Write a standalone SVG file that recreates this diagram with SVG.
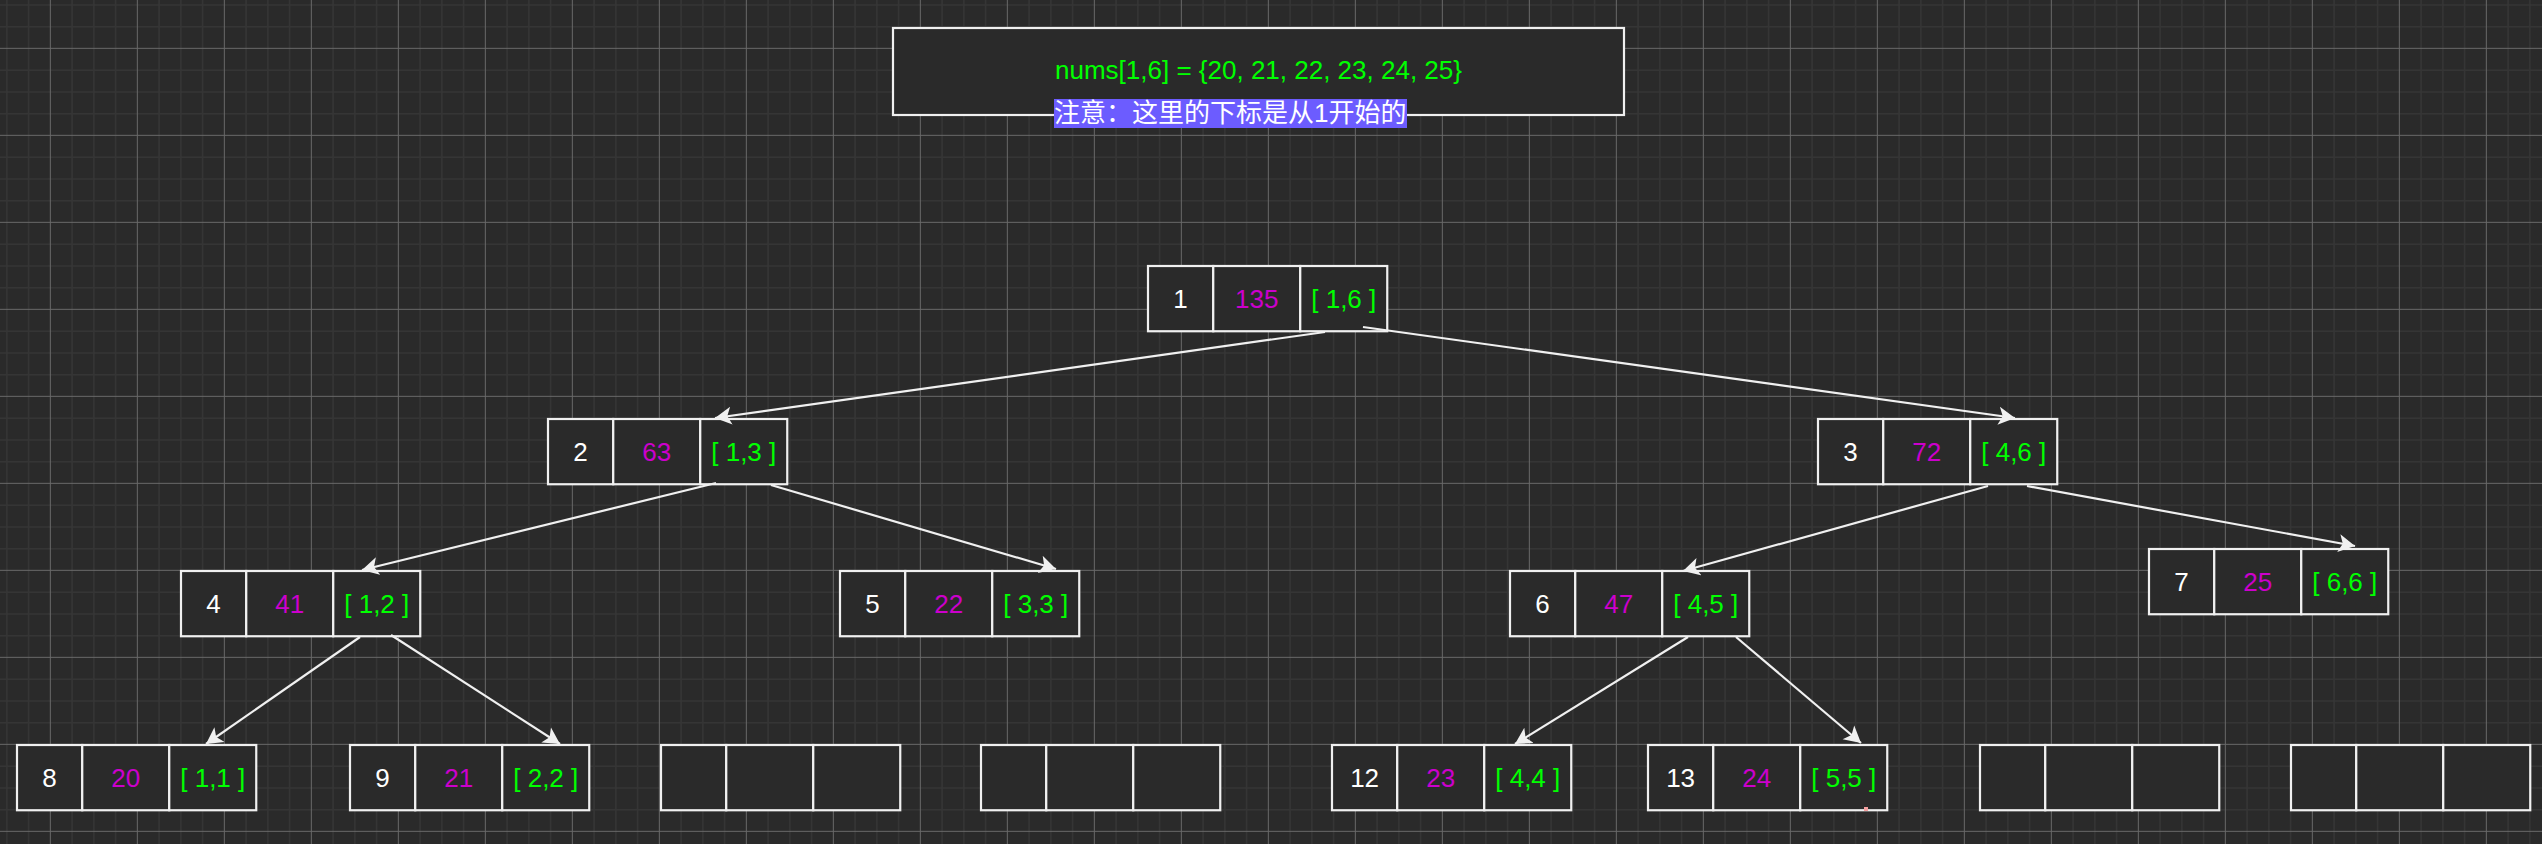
<svg xmlns="http://www.w3.org/2000/svg" width="2542" height="844" viewBox="0 0 2542 844">
<style>
.cell{fill:#2a2a2a;stroke:#f0f0f0;stroke-width:2.2}
.t{font-family:"Liberation Sans",Arial,Helvetica,sans-serif;font-size:26px;text-anchor:middle}
.i{fill:#ffffff}
.v{fill:#cc00cc}
.r{fill:#00ff00}
.edge{fill:none;stroke:#f0f0f0;stroke-width:2.2;marker-end:url(#arr)}
</style>
<defs>
<pattern id="grid" patternUnits="userSpaceOnUse" x="-4.045" y="-6.045" width="87" height="87">
<path d="M10.875 0V87M32.625 0V87M76.125 0V87M0 10.875H87M0 32.625H87M0 76.125H87" stroke="#353535" stroke-width="1.5" fill="none"/>
<path d="M54.375 0V87M0 54.375H87" stroke="#686868" stroke-width="1" fill="none"/>
</pattern>
<marker id="arr" markerUnits="userSpaceOnUse" markerWidth="18" markerHeight="20" viewBox="0 0 18 20" refX="16.5" refY="10" orient="auto">
<path d="M16.5 10L0 1L4.1 10L0 19Z" fill="#f0f0f0"/>
</marker>
</defs>
<rect x="0" y="0" width="2542" height="844" fill="#2a2a2a"/>
<rect x="0" y="0" width="2542" height="844" fill="url(#grid)"/>

<g id="title">
<rect x="893" y="28" width="731" height="87" class="cell"/>
<text x="1258.5" y="79" class="t r">nums[1,6] = {20, 21, 22, 23, 24, 25}</text>
<rect x="1054" y="99" width="353" height="29" fill="#6c5cff"/>
<text x="1054" y="122" fill="#ffffff" font-family="'Liberation Sans','Noto Sans CJK SC',sans-serif" font-size="26">注意：这里的下标是从1开始的</text>
</g>

<g id="node-1" transform="translate(1148,266)">
<rect x="0" y="0" width="65.25" height="65.25" class="cell"/><rect x="65.25" y="0" width="87" height="65.25" class="cell"/><rect x="152.25" y="0" width="87" height="65.25" class="cell"/>
<text x="32.6" y="42" class="t i">1</text><text x="108.75" y="42" class="t v">135</text><text x="195.75" y="42" class="t r">[ 1,6 ]</text>
</g>
<g id="node-2" transform="translate(548,419)">
<rect x="0" y="0" width="65.25" height="65.25" class="cell"/><rect x="65.25" y="0" width="87" height="65.25" class="cell"/><rect x="152.25" y="0" width="87" height="65.25" class="cell"/>
<text x="32.6" y="42" class="t i">2</text><text x="108.75" y="42" class="t v">63</text><text x="195.75" y="42" class="t r">[ 1,3 ]</text>
</g>
<g id="node-3" transform="translate(1818,419)">
<rect x="0" y="0" width="65.25" height="65.25" class="cell"/><rect x="65.25" y="0" width="87" height="65.25" class="cell"/><rect x="152.25" y="0" width="87" height="65.25" class="cell"/>
<text x="32.6" y="42" class="t i">3</text><text x="108.75" y="42" class="t v">72</text><text x="195.75" y="42" class="t r">[ 4,6 ]</text>
</g>
<g id="node-4" transform="translate(181,571)">
<rect x="0" y="0" width="65.25" height="65.25" class="cell"/><rect x="65.25" y="0" width="87" height="65.25" class="cell"/><rect x="152.25" y="0" width="87" height="65.25" class="cell"/>
<text x="32.6" y="42" class="t i">4</text><text x="108.75" y="42" class="t v">41</text><text x="195.75" y="42" class="t r">[ 1,2 ]</text>
</g>
<g id="node-5" transform="translate(840,571)">
<rect x="0" y="0" width="65.25" height="65.25" class="cell"/><rect x="65.25" y="0" width="87" height="65.25" class="cell"/><rect x="152.25" y="0" width="87" height="65.25" class="cell"/>
<text x="32.6" y="42" class="t i">5</text><text x="108.75" y="42" class="t v">22</text><text x="195.75" y="42" class="t r">[ 3,3 ]</text>
</g>
<g id="node-6" transform="translate(1510,571)">
<rect x="0" y="0" width="65.25" height="65.25" class="cell"/><rect x="65.25" y="0" width="87" height="65.25" class="cell"/><rect x="152.25" y="0" width="87" height="65.25" class="cell"/>
<text x="32.6" y="42" class="t i">6</text><text x="108.75" y="42" class="t v">47</text><text x="195.75" y="42" class="t r">[ 4,5 ]</text>
</g>
<g id="node-7" transform="translate(2149,549)">
<rect x="0" y="0" width="65.25" height="65.25" class="cell"/><rect x="65.25" y="0" width="87" height="65.25" class="cell"/><rect x="152.25" y="0" width="87" height="65.25" class="cell"/>
<text x="32.6" y="42" class="t i">7</text><text x="108.75" y="42" class="t v">25</text><text x="195.75" y="42" class="t r">[ 6,6 ]</text>
</g>
<g id="node-8" transform="translate(17,745)">
<rect x="0" y="0" width="65.25" height="65.25" class="cell"/><rect x="65.25" y="0" width="87" height="65.25" class="cell"/><rect x="152.25" y="0" width="87" height="65.25" class="cell"/>
<text x="32.6" y="42" class="t i">8</text><text x="108.75" y="42" class="t v">20</text><text x="195.75" y="42" class="t r">[ 1,1 ]</text>
</g>
<g id="node-9" transform="translate(350,745)">
<rect x="0" y="0" width="65.25" height="65.25" class="cell"/><rect x="65.25" y="0" width="87" height="65.25" class="cell"/><rect x="152.25" y="0" width="87" height="65.25" class="cell"/>
<text x="32.6" y="42" class="t i">9</text><text x="108.75" y="42" class="t v">21</text><text x="195.75" y="42" class="t r">[ 2,2 ]</text>
</g>
<g id="node-10" transform="translate(661,745)">
<rect x="0" y="0" width="65.25" height="65.25" class="cell"/><rect x="65.25" y="0" width="87" height="65.25" class="cell"/><rect x="152.25" y="0" width="87" height="65.25" class="cell"/>
</g>
<g id="node-11" transform="translate(981,745)">
<rect x="0" y="0" width="65.25" height="65.25" class="cell"/><rect x="65.25" y="0" width="87" height="65.25" class="cell"/><rect x="152.25" y="0" width="87" height="65.25" class="cell"/>
</g>
<g id="node-12" transform="translate(1332,745)">
<rect x="0" y="0" width="65.25" height="65.25" class="cell"/><rect x="65.25" y="0" width="87" height="65.25" class="cell"/><rect x="152.25" y="0" width="87" height="65.25" class="cell"/>
<text x="32.6" y="42" class="t i">12</text><text x="108.75" y="42" class="t v">23</text><text x="195.75" y="42" class="t r">[ 4,4 ]</text>
</g>
<g id="node-13" transform="translate(1648,745)">
<rect x="0" y="0" width="65.25" height="65.25" class="cell"/><rect x="65.25" y="0" width="87" height="65.25" class="cell"/><rect x="152.25" y="0" width="87" height="65.25" class="cell"/>
<text x="32.6" y="42" class="t i">13</text><text x="108.75" y="42" class="t v">24</text><text x="195.75" y="42" class="t r">[ 5,5 ]</text>
<rect x="216" y="62" width="4" height="4" fill="#f4a0a0"/>
</g>
<g id="node-14" transform="translate(1980,745)">
<rect x="0" y="0" width="65.25" height="65.25" class="cell"/><rect x="65.25" y="0" width="87" height="65.25" class="cell"/><rect x="152.25" y="0" width="87" height="65.25" class="cell"/>
</g>
<g id="node-15" transform="translate(2291,745)">
<rect x="0" y="0" width="65.25" height="65.25" class="cell"/><rect x="65.25" y="0" width="87" height="65.25" class="cell"/><rect x="152.25" y="0" width="87" height="65.25" class="cell"/>
</g>

<g id="connectors">
<path class="edge" d="M1325 332L715 418"/>
<path class="edge" d="M1363 327L2015 418"/>
<path class="edge" d="M716 483L362 570"/>
<path class="edge" d="M771 485L1056 569"/>
<path class="edge" d="M1988 486L1683 571"/>
<path class="edge" d="M2027 486L2355 546"/>
<path class="edge" d="M360 637L206 744"/>
<path class="edge" d="M391 635L560 744"/>
<path class="edge" d="M1688 637L1515 744"/>
<path class="edge" d="M1736 637L1861 743"/>
</g>
</svg>
